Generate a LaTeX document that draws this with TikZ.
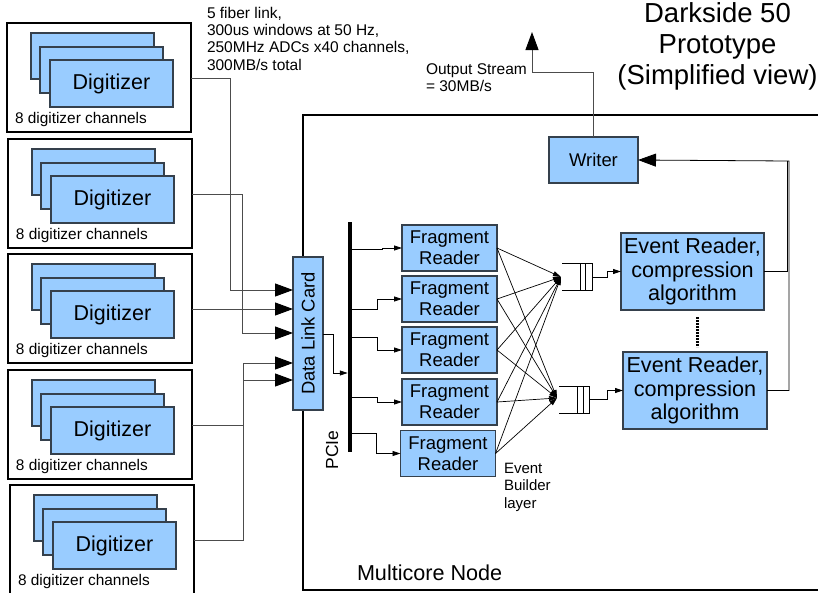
\documentclass[tikz,border=0pt]{standalone}
\usepackage{fontspec}
\setmainfont{Liberation Sans}
\usetikzlibrary{arrows.meta,calc}
\definecolor{cardblue}{HTML}{99CCFF}
\definecolor{edgegray}{HTML}{35404C}
\begin{document}
\begin{tikzpicture}[x=1pt,y=-1pt,
  bluebox/.style={draw=edgegray, fill=cardblue, line width=1.2pt, inner sep=0pt, outer sep=0pt, align=center},
  groupbox/.style={draw=black, line width=2.5pt, inner sep=0pt, outer sep=0pt, anchor=north west},
  wire/.style={draw=black!70, line width=1pt},
  link/.style={draw=black, line width=0.8pt},
  bigtip/.style={-{Triangle[length=18pt,width=13pt,color=black]}},
  smalltip/.style={-{Triangle[length=8pt,width=5pt,color=black]}},
  txt/.style={inner sep=0pt, outer sep=0pt}]
\useasboundingbox (0,0) rectangle (818,592);
\clip (0,0) rectangle (818,592);

% multicore node frame (open to the right)
\node[groupbox, minimum width=540pt, minimum height=475pt] (multicore) at (303,115) {};
\node[txt, anchor=base west, font=\fontsize{21.6}{24}\selectfont] (mclab) at (357,580) {Multicore Node};

% digitizer crates
\foreach \i/\L/\T/\W in {1/7/23/184, 2/8/139/184, 3/8/254/184, 4/8/370/184, 5/10/485/184} {
  \node[groupbox, minimum width=\W pt, minimum height=109pt] (grp\i) at (\L,\T) {};
  \draw[bluebox] ({\L+24},{\T+10}) rectangle ++(123,46);
  \draw[bluebox] ({\L+33},{\T+24}) rectangle ++(123,46);
  \node[bluebox, anchor=north west, minimum width=123pt, minimum height=47pt,
        font=\fontsize{21.5}{24}\selectfont] (dig\i) at ({\L+43},{\T+37}) {Digitizer};
  \node[txt, anchor=base west, font=\fontsize{15.4}{17}\selectfont] (lab\i) at ({\L+8},{\T+100}) {8 digitizer channels};
}

% data link card
\node[bluebox, minimum width=30pt, minimum height=153pt] (card) at (308,333.5) {};
\node[txt, rotate=90, font=\fontsize{18.4}{20}\selectfont] (cardlab) at (card.center) {Data Link Card};

% fibre links into the card
\draw[wire, bigtip] ($(grp1.north east)+(0,55)$) -| (230,290) -- (card.west |- 0,290);
\draw[wire, bigtip] ($(grp2.north east)+(0,55)$) -| (242,333) -- (card.west |- 0,333);
\draw[wire, bigtip] ($(grp3.north east)+(0,55)$) -- (card.west |- 0,309);
\draw[wire, bigtip] ($(grp4.north east)+(0,55)$) -| (243,380) -- (card.west |- 0,380);
\draw[wire, bigtip] ($(grp5.north east)+(0,55)$) -| (243,363) -- (card.west |- 0,363);

% multi-line labels are placed by the baseline of their last line
\node[txt, anchor=base west, align=left, font=\fontsize{15.5}{17.3}\selectfont] (fiber) at (207,70)
  {5 fiber link,\\300us windows at 50 Hz,\\250MHz ADCs x40 channels,\\300MB/s total};

% PCIe bus
\node[fill=black, inner sep=0pt, outer sep=0pt, minimum width=4.5pt, minimum height=230pt] (pcie) at (350,337) {};
\node[txt, rotate=90, font=\fontsize{17.5}{20}\selectfont] (pcielab) at (332,450) {PCIe};
\draw[link, smalltip] (card.east |- 0,334) -- (333,334) |- (pcie.west |- 0,373);

% fragment readers
\foreach \i/\x/\y in {1/449.5/248, 2/449.5/299, 3/449.5/350, 4/449.5/402, 5/448/453.5}
  \node[bluebox, minimum width=95pt, minimum height=46pt, font=\fontsize{18.5}{21}\selectfont] (fr\i) at (\x,\y) {Fragment\\Reader};
\foreach \i/\ys/\xj in {1/249/382, 2/309/377, 3/337/377, 4/397/377, 5/433/376}
  \draw[link, smalltip] (pcie.east |- 0,\ys) -- (\xj,\ys) |- (fr\i.west);

\node[txt, anchor=base west, align=left, font=\fontsize{15}{17.5}\selectfont] (eblab) at (504,508) {Event\\Builder\\layer};

% event builder fan-in
\coordinate (mA) at (561,277);
\coordinate (mB) at (557,398);
\foreach \i in {1,...,5} {
  \draw[link, line width=0.7pt, smalltip] (fr\i.east) -- (mA);
  \draw[link, line width=0.7pt, smalltip] (fr\i.east) -- (mB);
}

% queues
\draw[link] (562,263) -- (592,263) -- (592,290) -- (562,290);
\draw[link] (580,263) -- (580,290) (585,263) -- (585,290);
\draw[link] (559,386) -- (589,386) -- (589,413) -- (559,413);
\draw[link] (577,386) -- (577,413) (583,386) -- (583,413);
\coordinate (qA) at (592,277);
\coordinate (qB) at (589,399.5);

% event readers
\node[bluebox, minimum width=143pt, minimum height=77pt, font=\fontsize{21.6}{23.3}\selectfont] (er1) at (692.5,271.5) {Event Reader,\\compression\\algorithm};
\node[bluebox, minimum width=144pt, minimum height=77pt, font=\fontsize{21.6}{23.3}\selectfont] (er2) at (695,390.5) {Event Reader,\\compression\\algorithm};
\draw[line width=3pt, dash pattern=on 2pt off 1pt] (697,317) -- (697,347);

\draw[link, smalltip] (qA) -- (607,277) |- (er1.west);
\draw[link, smalltip] (qB) -- (607,399.5) |- (er2.west);

% writer
\node[bluebox, minimum width=89pt, minimum height=46pt, font=\fontsize{18.4}{21}\selectfont] (writer) at (593.5,160) {Writer};
\draw[link] (er1.east) -| (787,161);
\draw[link, bigtip] (er2.east) -| (789,161) -- (writer.east);

\coordinate (out) at (532,32);
\draw[wire, bigtip] (writer.north) |- (532,72) -- (out);
\node[txt, anchor=base west, align=left, font=\fontsize{15.5}{17}\selectfont] (outlab) at (426,91) {Output Stream\\= 30MB/s};

\node[txt, anchor=base, align=center, font=\fontsize{27.5}{31}\selectfont] (title) at (717.5,84) {Darkside 50\\Prototype\\(Simplified view)};
\end{tikzpicture}
\end{document}
